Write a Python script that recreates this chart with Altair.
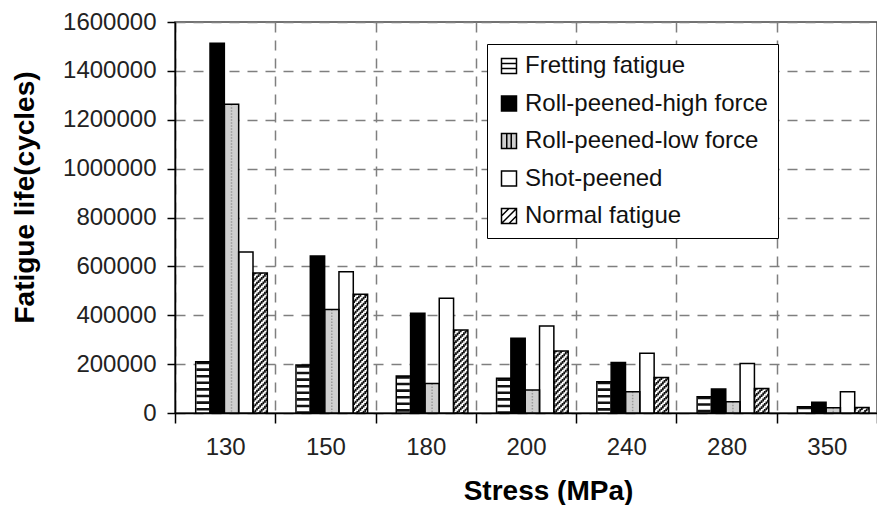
import altair as alt
import pandas as pd

# Fatigue life (cycles) per stress level and treatment
stress = ["130", "150", "180", "200", "240", "280", "350"]
series = [
    "Fretting fatigue",
    "Roll-peened-high force",
    "Roll-peened-low force",
    "Shot-peened",
    "Normal fatigue",
]
fretting = [210000, 196000, 151000, 142000, 128000, 67000, 26000]
roll_high = [1513000, 642000, 408000, 306000, 207000, 98000, 44000]
roll_low = [1263000, 424000, 121000, 94000, 87000, 46000, 21000]
shot = [659000, 578000, 470000, 356000, 244000, 203000, 87000]
normal = [573000, 486000, 340000, 254000, 145000, 100000, 22000]

y_ticks = [0, 200000, 400000, 600000, 800000, 1000000, 1200000, 1400000, 1600000]

# Styling
FONT = "Liberation Sans"
fills = ["#ffffff", "#000000", "#cfcfcf", "#ffffff", "#ffffff"]
outline_colors = ["#000000"] * len(series)
symbol_paths = [
    "M-1,-1H1V1H-1Z M-1,-0.33H1 M-1,0.33H1",
    "M-1,-1H1V1H-1Z",
    "M-1,-1H1V1H-1Z M-0.3,-1V1 M0.3,-1V1",
    "M-1,-1H1V1H-1Z",
    "M-1,-1H1V1H-1Z M-1,0L0,-1 M-1,1L1,-1 M0,1L1,0",
]

PLOT_W, PLOT_H = 702, 391
HATCH_COLS = 9            # thin dashed columns that build the diagonal hatch
PAD_LEFT_COLS = 13        # group padding, in hatch-column units (2 * HATCH_COLS in total)
PAD_RIGHT_COLS = 2 * HATCH_COLS - PAD_LEFT_COLS
BAR_ALIGN = PAD_LEFT_COLS / (2 * HATCH_COLS)
bar_step = PLOT_W / len(stress) / (len(series) + 2)
col_step = bar_step / HATCH_COLS
HATCH_PERIOD = 6.0
HATCH_DASH = 2.8

values_by_series = dict(zip(series, [fretting, roll_high, roll_low, shot, normal]))
df = pd.DataFrame(
    [
        {"stress": s, "series": name, "life": v}
        for name, vals in values_by_series.items()
        for s, v in zip(stress, vals)
    ]
)

slots = (
    [f"left-gap#{i}" for i in range(PAD_LEFT_COLS)]
    + [f"{name}#{k}" for name in series for k in range(HATCH_COLS)]
    + [f"right-gap#{i}" for i in range(PAD_RIGHT_COLS)]
)
hatch_df = pd.DataFrame(
    [
        {"stress": s, "series": "Normal fatigue", "life": v, "col": k,
         "slot": f"Normal fatigue#{k}"}
        for s, v in zip(stress, normal)
        for k in range(HATCH_COLS)
    ]
)

x_enc = alt.X(
    "stress:N",
    sort=stress,
    scale=alt.Scale(paddingInner=0, paddingOuter=0),
    axis=alt.Axis(
        title="Stress (MPa)",
        tickBand="extent",
        labelAngle=0,
        labelFont=FONT,
        labelFontSize=24,
        labelColor="#222222",
        labelPadding=12,
        tickSize=10,
        tickColor="black",
        tickWidth=1.5,
        domainColor="black",
        domainWidth=1.5,
        grid=True,
        gridDash=[10, 8],
        gridColor="#7f7f7f",
        gridWidth=1.5,
        titleFont=FONT,
        titleFontSize=28,
        titleFontWeight="bold",
        titleColor="black",
        titleX=373,
        titleY=86,
        titleBaseline="alphabetic",
    ),
)
y_enc = alt.Y(
    "life:Q",
    scale=alt.Scale(domain=[0, 1600000], nice=False),
    axis=alt.Axis(
        title="Fatigue life(cycles)",
        values=y_ticks,
        format="d",
        labelFont=FONT,
        labelFontSize=24,
        labelColor="#222222",
        labelPadding=11,
        tickSize=8,
        tickColor="black",
        tickWidth=1.5,
        domainColor="black",
        domainWidth=1.5,
        grid=True,
        gridDash=[10, 8],
        gridColor="#7f7f7f",
        gridWidth=1.5,
        titleFont=FONT,
        titleFontSize=28,
        titleFontWeight="bold",
        titleColor="black",
        titleAngle=-90,
        titleAlign="center",
        titleBaseline="alphabetic",
        titleX=-142,
        titleY=175,
    ),
)
offset_enc = alt.XOffset(
    "series:N",
    scale=alt.Scale(domain=series, paddingInner=0, paddingOuter=1, align=BAR_ALIGN),
)
slot_enc = alt.XOffset(
    "slot:N",
    scale=alt.Scale(domain=slots, paddingInner=0, paddingOuter=0),
)

base = alt.Chart(df)

# Filled bars
bars = base.mark_bar(strokeWidth=0).encode(
    x=x_enc,
    xOffset=offset_enc,
    y=y_enc,
    fill=alt.Fill("series:N", scale=alt.Scale(domain=series, range=fills), legend=None),
)

# Horizontal stripes of the fretting bars
fret_stripes = (
    base.transform_filter(alt.datum.series == "Fretting fatigue")
    .transform_calculate(zero="0")
    .mark_rule(color="#111111", strokeWidth=bar_step - 1.5, strokeDash=[2.6, 4.0], strokeCap="butt")
    .encode(x=x_enc, xOffset=offset_enc, y=y_enc, y2=alt.Y2("zero:Q"))
)

# Fine dotted texture of the low-force bars
low_texture = (
    base.transform_filter(alt.datum.series == "Roll-peened-low force")
    .transform_calculate(zero="0")
    .mark_rule(color="#9a9a9a", strokeWidth=1.5, strokeDash=[1.5, 1.5], strokeCap="butt")
    .encode(x=x_enc, xOffset=offset_enc, y=y_enc, y2=alt.Y2("zero:Q"))
)

# Diagonal hatch of the normal-fatigue bars, one dashed column at a time
hatch_layers = []
for k in range(HATCH_COLS):
    hatch_layers.append(
        alt.Chart(hatch_df)
        .transform_filter(alt.datum.col == k)
        .transform_calculate(zero="0")
        .mark_rule(
            color="#111111",
            strokeWidth=col_step + 0.2,
            strokeDash=[HATCH_DASH, HATCH_PERIOD - HATCH_DASH],
            strokeDashOffset=(k * col_step) % HATCH_PERIOD,
            strokeCap="butt",
        )
        .encode(x=x_enc, xOffset=slot_enc, y=y_enc, y2=alt.Y2("zero:Q"))
    )

# Black outlines on top
outlines = base.mark_bar(fillOpacity=0, stroke="black", strokeWidth=1.5).encode(
    x=x_enc, xOffset=offset_enc, y=y_enc
)

legend = alt.Legend(
    title=None,
    orient="none",
    legendX=312,
    legendY=22,
    padding=10,
    fillColor="white",
    strokeColor="black",
    labelFont=FONT,
    labelFontSize=24,
    labelColor="#111111",
    labelLimit=400,
    labelOffset=4,
    rowPadding=13.5,
    symbolSize=225,
    symbolStrokeWidth=1.5,
    symbolOpacity=1,
)

# Invisible points that carry the legend: fill, outline and patterned square per treatment
legend_points = base.mark_point(filled=True, opacity=0, strokeWidth=1.5).encode(
    fill=alt.Fill("series:N", scale=alt.Scale(domain=series, range=fills), legend=legend),
    stroke=alt.Stroke("series:N", scale=alt.Scale(domain=series, range=outline_colors), legend=legend),
    shape=alt.Shape("series:N", scale=alt.Scale(domain=series, range=symbol_paths), legend=legend),
)

chart = (
    alt.layer(bars, fret_stripes, low_texture, *hatch_layers, outlines, legend_points)
    .resolve_scale(xOffset="independent", fill="independent", shape="independent",
                   stroke="independent")
    .properties(
        width=PLOT_W,
        height=PLOT_H,
        autosize=alt.AutoSizeParams(type="none"),
        padding={"left": 175, "top": 22, "right": 0, "bottom": 92},
        background="white",
    )
    .configure_view(stroke="#444444", strokeWidth=1.5)
)

chart.save("out.html", embed_options={"renderer": "svg", "actions": False})
